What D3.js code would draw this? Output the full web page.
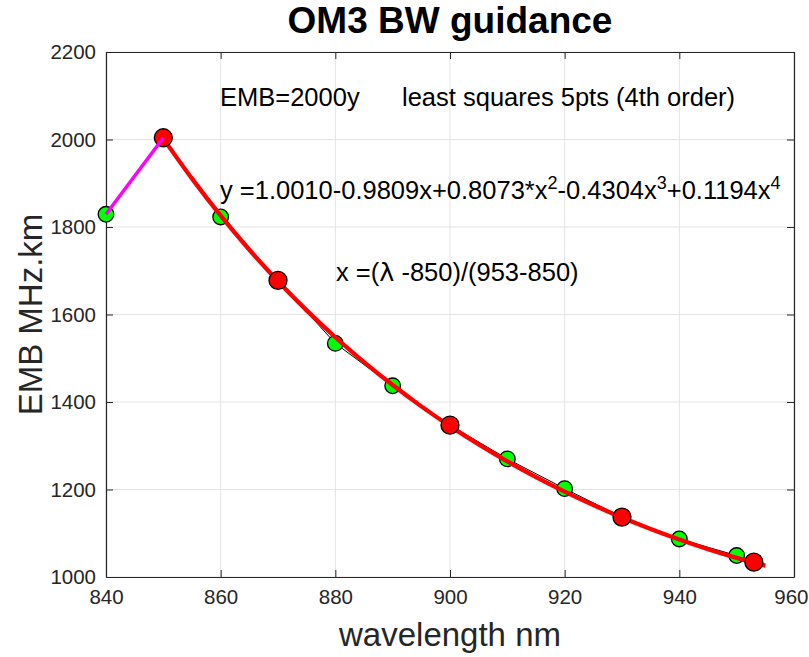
<!DOCTYPE html>
<html><head><meta charset="utf-8">
<script src="https://cdn.jsdelivr.net/npm/d3@7"></script>
<style>body{margin:0;background:#fff;} svg{display:block;font-family:"Liberation Sans",Arial,sans-serif;}</style>
</head><body>
<svg id="chart" width="809" height="657"></svg>
<script>
// ---- data ----
const xTicks = [840, 860, 880, 900, 920, 940, 960];
const yTicks = [1000, 1200, 1400, 1600, 1800, 2000, 2200];
const greenX = [840, 860, 880, 890, 910, 920, 940, 950];
const greenY = [1829, 1823, 1534, 1437, 1270, 1202, 1087, 1049];
const redX = [850, 870, 900, 930, 953];
const redY = [2004, 1678, 1347, 1137, 1034];
const measX = [850, 860, 870, 880, 890, 900, 910, 920, 930, 940, 950, 953];
const measY = [2004, 1823, 1678, 1534, 1437, 1347, 1270, 1202, 1137, 1087, 1049, 1034];
const magX = [840, 850];
const magY = [1829, 2004];
const fitX = [850, 855, 860, 865, 870, 875, 880, 885, 890, 895, 900, 905, 910, 915, 920, 925, 930, 935, 940, 945, 950, 955];
const fitY = [2002, 1910.5, 1826, 1748, 1676, 1609.5, 1548, 1491.2, 1438.7, 1390, 1344.9, 1303.2, 1264.4, 1228.5, 1195.2, 1164.4, 1135.9, 1109.6, 1085.5, 1063.5, 1043.6, 1026];

const svg = d3.select("#chart");
const L = 106, R = 794, T = 52, B = 577;
const x = d3.scaleLinear().domain([840, 960]).range([L, R]);
const y = d3.scaleLinear().domain([1000, 2200]).range([B, T]);
const axisCol = "#262626";
const fmt = d3.format("d");

// grid
const g = svg.append("g");
g.selectAll("line.vx").data(xTicks).join("line")
  .attr("x1", d => x(d)).attr("x2", d => x(d)).attr("y1", T).attr("y2", B)
  .attr("stroke", "#e3e3e3").attr("stroke-width", 1);
g.selectAll("line.hy").data(yTicks).join("line")
  .attr("x1", L).attr("x2", R).attr("y1", d => y(d)).attr("y2", d => y(d))
  .attr("stroke", "#e3e3e3").attr("stroke-width", 1);

// axes
const tl = 7;
const xb = svg.append("g").attr("transform", `translate(0,${B})`)
  .call(d3.axisBottom(x).tickValues(xTicks).tickFormat(fmt).tickSizeInner(-tl).tickSizeOuter(0).tickPadding(12));
const xt = svg.append("g").attr("transform", `translate(0,${T})`)
  .call(d3.axisTop(x).tickValues(xTicks).tickSizeInner(-tl).tickSizeOuter(0).tickFormat(""));
const yl = svg.append("g").attr("transform", `translate(${L},0)`)
  .call(d3.axisLeft(y).tickValues(yTicks).tickFormat(fmt).tickSizeInner(-tl).tickSizeOuter(0).tickPadding(10));
const yr = svg.append("g").attr("transform", `translate(${R},0)`)
  .call(d3.axisRight(y).tickValues(yTicks).tickSizeInner(-tl).tickSizeOuter(0).tickFormat(""));
[xb, xt, yl, yr].forEach(a => {
  a.selectAll("path").attr("stroke", axisCol).attr("stroke-width", 1.2);
  a.selectAll("line").attr("stroke", axisCol);
  a.selectAll("text").attr("fill", axisCol).style("font-size", "20.5px").style("font-family", "Liberation Sans, Arial, sans-serif");
});
// keep last x label inside the window
xb.selectAll(".tick text").filter(d => d === 960).attr("text-anchor", "end").attr("dx", 14);

const line = d3.line().x(d => x(d[0])).y(d => y(d[1]));

// thin black line through measured points
svg.append("path").datum(measX.map((v, i) => [v, measY[i]]))
  .attr("d", line).attr("fill", "none").attr("stroke", "#000").attr("stroke-width", 1);

// green markers
svg.selectAll("circle.g").data(greenX.map((v, i) => [v, greenY[i]])).join("circle")
  .attr("cx", d => x(d[0])).attr("cy", d => y(d[1])).attr("r", 7.8)
  .attr("fill", "#00ff00").attr("stroke", "#000").attr("stroke-width", 1.3);

// red fit curve
svg.append("path").datum(fitX.map((v, i) => [v, fitY[i]]))
  .attr("d", d3.line().x(d => x(d[0])).y(d => y(d[1])).curve(d3.curveCatmullRom))
  .attr("fill", "none").attr("stroke", "#ff0000").attr("stroke-width", 4.3);

// red markers
svg.selectAll("circle.r").data(redX.map((v, i) => [v, redY[i]])).join("circle")
  .attr("cx", d => x(d[0])).attr("cy", d => y(d[1])).attr("r", 9)
  .attr("fill", "#ff0000").attr("stroke", "#000").attr("stroke-width", 1.3);

// magenta segment
svg.append("path").datum(magX.map((v, i) => [v, magY[i]]))
  .attr("d", line).attr("fill", "none").attr("stroke", "#ff00ff").attr("stroke-width", 3.5);

// title & labels
svg.append("text").attr("x", (L + R) / 2).attr("y", 33).attr("text-anchor", "middle")
  .style("font-size", "37px").style("font-weight", "bold").attr("fill", "#000").text("OM3 BW guidance");
svg.append("text").attr("x", (L + R) / 2).attr("y", 646).attr("text-anchor", "middle")
  .style("font-size", "33px").attr("fill", axisCol).text("wavelength nm");
svg.append("text").attr("transform", `translate(42,${(T + B) / 2}) rotate(-90)`).attr("text-anchor", "middle")
  .style("font-size", "33px").attr("fill", axisCol).text("EMB MHz.km");

// annotations
const fs = "25.5px", sfs = "18px", sup = -10;
svg.append("text").attr("x", 220).attr("y", 106).style("font-size", fs).text("EMB=2000y");
svg.append("text").attr("x", 402).attr("y", 106).style("font-size", fs).text("least squares 5pts (4th order)");
const eq = svg.append("text").attr("x", 220).attr("y", 199).style("font-size", fs);
eq.append("tspan").text("y =1.0010-0.9809x+0.8073*x");
eq.append("tspan").attr("dy", sup).style("font-size", sfs).text("2");
eq.append("tspan").attr("dy", -sup).text("-0.4304x");
eq.append("tspan").attr("dy", sup).style("font-size", sfs).text("3");
eq.append("tspan").attr("dy", -sup).text("+0.1194x");
eq.append("tspan").attr("dy", sup).style("font-size", sfs).text("4");
const xe = svg.append("text").attr("x", 336).attr("y", 281).style("font-size", fs);
xe.append("tspan").text("x =(");
xe.append("tspan").style("font-family", "DejaVu Sans").text("λ");
xe.append("tspan").text(" -850)/(953-850)");
</script>
</body></html>
